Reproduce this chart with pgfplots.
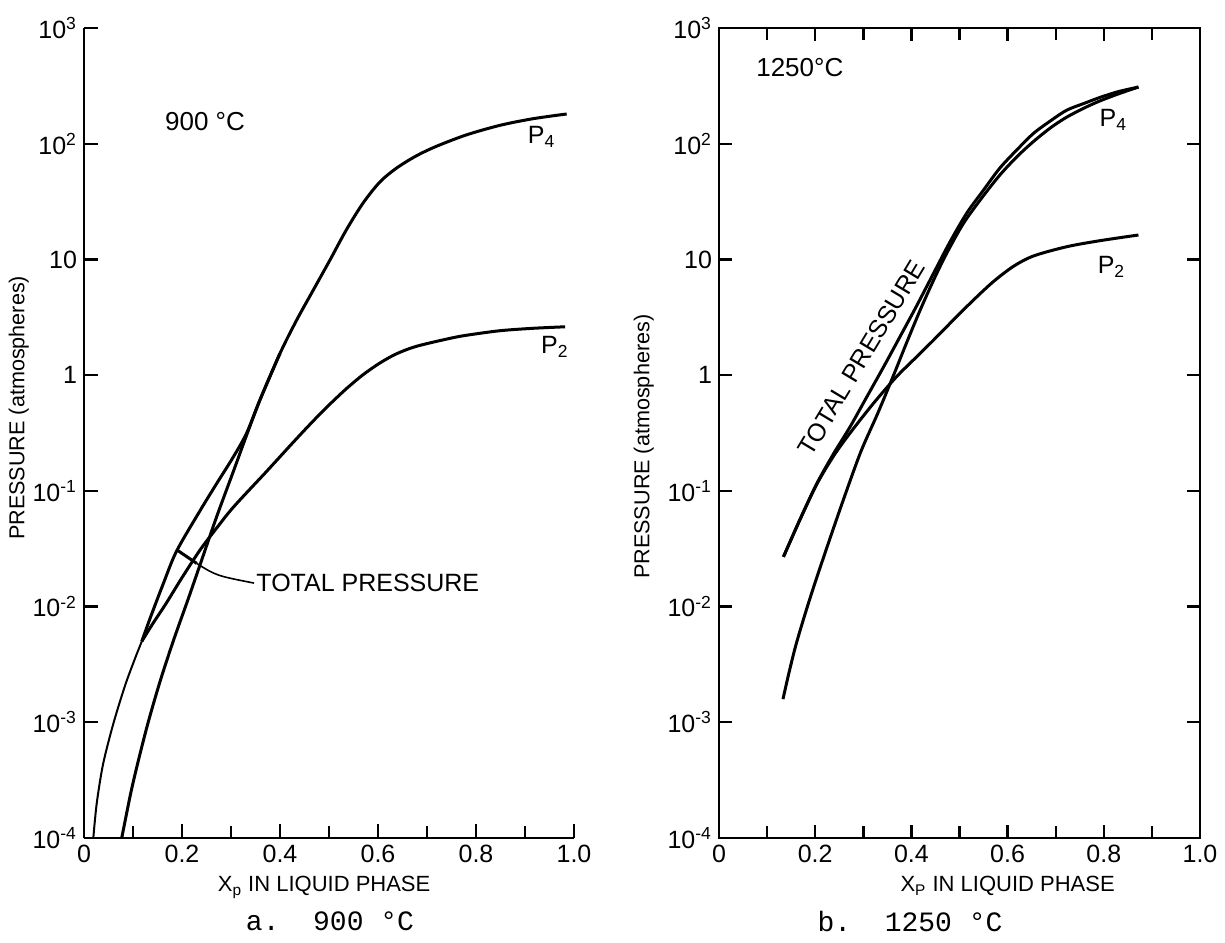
\documentclass[border=0pt]{standalone}
\usepackage{fontspec}
\setmainfont{Liberation Sans}
\newfontfamily\capfont{Liberation Mono}
\usepackage{pgfplots}
\pgfplotsset{compat=1.18}

\tikzset{
  curve/.style={black, line width=1.5pt, smooth},
  lbl/.style={font=\fontsize{12.5}{14}\selectfont},
}

\begin{document}
\begin{tikzpicture}
% ---------- a. 900 C ----------
\begin{axis}[
    scale only axis, width=245pt, height=405pt,
    ymode=log, ymin=1e-4, ymax=1e3, xmin=0, xmax=1,
    axis x line*=bottom, axis y line*=left,
    xtick={0,0.2,0.4,0.6,0.8,1.0},
    xticklabels={0,0.2,0.4,0.6,0.8,1.0},
    minor xtick={0.1,0.3,0.5,0.7,0.9},
    ytick={1e-4,1e-3,1e-2,1e-1,1,10,100,1000},
    yticklabels={10\textsuperscript{-4},10\textsuperscript{-3},10\textsuperscript{-2},10\textsuperscript{-1},1,10,10\textsuperscript{2},10\textsuperscript{3}},
    yminorticks=false,
    tick align=inside,
    major tick length=7pt, minor tick length=6pt,
    tick style={black, line width=1.2pt},
    axis line style={line width=1.4pt},
    tick label style={font=\fontsize{12.5}{14}\selectfont},
    xlabel={X\textsubscript{p} IN LIQUID PHASE},
    xlabel style={font=\fontsize{11}{13}\selectfont, at={(ticklabel cs:0.49)}},
    ylabel={PRESSURE (atmospheres)},
    ylabel style={font=\fontsize{10.8}{12}\selectfont, at={(ticklabel cs:0.531)}},
    ylabel shift=-5pt,
    clip=false,
]
% P4
\addplot[curve] coordinates {
 (0.077,1.000e-4) (0.095,2.399e-4) (0.111,4.677e-4) (0.131,1.000e-3)
 (0.155,2.239e-3) (0.182,5.012e-3) (0.213,1.175e-2) (0.240,2.512e-2)
 (0.271,6.026e-2) (0.305,0.1479) (0.330,0.2884) (0.359,0.6095)
 (0.400,1.542) (0.434,2.992) (0.468,5.445) (0.502,9.886) (0.536,18.20)
 (0.570,30.90) (0.604,46.77) (0.638,61.66) (0.679,78.89) (0.720,95.28)
 (0.781,119.4) (0.849,144.2) (0.916,164.4) (0.985,180.7)
};
% thin lower branch
\addplot[curve, line width=1pt] coordinates {
 (0.019,1.0e-4) (0.026,1.995e-4) (0.039,4.365e-4) (0.060,9.772e-4)
 (0.084,2.089e-3) (0.104,3.548e-3) (0.118,5.012e-3)
};
% P2
\addplot[curve] coordinates {
 (0.118,5.012e-3) (0.140,7.079e-3) (0.168,1.072e-2) (0.200,1.778e-2)
 (0.237,3.090e-2) (0.271,4.786e-2) (0.305,7.244e-2) (0.373,0.1479)
 (0.427,0.2630) (0.468,0.4027) (0.502,0.5623) (0.536,0.7674)
 (0.570,1.012) (0.604,1.274) (0.638,1.531) (0.679,1.778) (0.747,2.080)
 (0.781,2.213) (0.849,2.421) (0.917,2.541) (0.982,2.618)
};
% total pressure
\addplot[curve] coordinates {
 (0.118,5.012e-3) (0.135,7.943e-3) (0.162,1.585e-2) (0.189,3.020e-2)
 (0.237,6.761e-2) (0.271,0.1161) (0.305,0.1972) (0.332,0.3162)
 (0.359,0.6095) (0.400,1.542)
};
\node[font=\fontsize{13}{15}\selectfont] at (axis cs:0.247,155) {900~°C};
\node[lbl] at (axis cs:0.934,115) {P\textsubscript{4}};
\node[lbl] at (axis cs:0.961,1.758) {P\textsubscript{2}};
\draw[line width=1.5pt] (axis cs:0.190,0.0308) -- (axis cs:0.230,0.0236);
\draw[line width=0.8pt] (axis cs:0.230,0.0236) .. controls (axis cs:0.27,0.0185) .. (axis cs:0.347,0.01596);
\node[lbl, anchor=west, inner sep=1pt] at (axis cs:0.347,0.01596) {TOTAL PRESSURE};
\node[font=\capfont\fontsize{14}{16}\selectfont] at (axis cs:0.502,1.9e-5) {a.\ \ 900 °C};
\end{axis}

% ---------- b. 1250 C ----------
\begin{axis}[
    at={(317.5pt,0pt)}, anchor=south west,
    scale only axis, width=240.5pt, height=405pt,
    ymode=log, ymin=1e-4, ymax=1e3, xmin=0, xmax=1,
    xtick={0,0.2,0.4,0.6,0.8,1.0},
    xticklabels={0,0.2,0.4,0.6,0.8,1.0},
    minor xtick={0.1,0.3,0.5,0.7,0.9},
    ytick={1e-4,1e-3,1e-2,1e-1,1,10,100,1000},
    yticklabels={10\textsuperscript{-4},10\textsuperscript{-3},10\textsuperscript{-2},10\textsuperscript{-1},1,10,10\textsuperscript{2},10\textsuperscript{3}},
    yminorticks=false,
    tick align=inside,
    major tick length=6.5pt, minor tick length=6pt,
    tick style={black, line width=1.2pt},
    axis line style={line width=1.4pt},
    tick label style={font=\fontsize{12.5}{14}\selectfont},
    xlabel={X\textsubscript{P} IN LIQUID PHASE},
    xlabel style={font=\fontsize{11}{13}\selectfont, at={(ticklabel cs:0.6)}},
    ylabel={PRESSURE (atmospheres)},
    ylabel style={font=\fontsize{10.8}{12}\selectfont, at={(ticklabel cs:0.483)}},
    clip=false,
]
% total pressure
\addplot[curve] coordinates {
 (0.134,2.692e-2) (0.168,5.623e-2) (0.203,0.1148) (0.238,0.2089)
 (0.272,0.3548) (0.307,0.6457) (0.342,1.175) (0.376,2.138) (0.411,3.981)
 (0.446,7.586) (0.480,14.13) (0.515,25.12) (0.550,39.81) (0.584,61.66)
 (0.620,89.13) (0.654,123.0) (0.690,158.5) (0.723,195.0) (0.760,223.9)
 (0.792,251.2) (0.830,281.8) (0.872,309.0)
};
% P4
\addplot[curve] coordinates {
 (0.133,1.585e-3) (0.145,2.630e-3) (0.160,4.677e-3) (0.180,8.913e-3)
 (0.200,1.622e-2) (0.230,3.802e-2) (0.260,8.710e-2) (0.295,0.2188)
 (0.330,0.4677) (0.362,0.9772) (0.390,1.905) (0.418,3.631) (0.446,6.607)
 (0.473,11.22) (0.508,20.42) (0.546,33.88) (0.584,53.70) (0.620,77.62)
 (0.654,104.7) (0.690,138.0) (0.723,169.8) (0.760,204.2) (0.792,234.4)
 (0.830,269.2) (0.872,309.0)
};
% P2
\addplot[curve] coordinates {
 (0.134,2.692e-2) (0.168,5.598e-2) (0.203,0.1135) (0.238,0.1995)
 (0.272,0.3141) (0.321,0.5702) (0.369,0.9683) (0.411,1.442) (0.446,2.009)
 (0.487,2.992) (0.529,4.457) (0.570,6.412) (0.612,8.710) (0.654,10.72)
 (0.723,12.88) (0.792,14.52) (0.872,16.26)
};
\node[font=\fontsize{13}{15}\selectfont] at (axis cs:0.168,450.8) {1250°C};
\node[lbl] at (axis cs:0.82,160.3) {P\textsubscript{4}};
\node[lbl] at (axis cs:0.816,8.65) {P\textsubscript{2}};
\node[lbl, rotate=59] at (axis cs:0.296,1.41) {TOTAL PRESSURE};
\node[font=\capfont\fontsize{14}{16}\selectfont] at (axis cs:0.397,1.9e-5) {b.\ \ 1250 °C};
\end{axis}

\pgfresetboundingbox
\path[use as bounding box] (-42pt,-52pt) rectangle (570.5pt,419pt);
\end{tikzpicture}
\end{document}
